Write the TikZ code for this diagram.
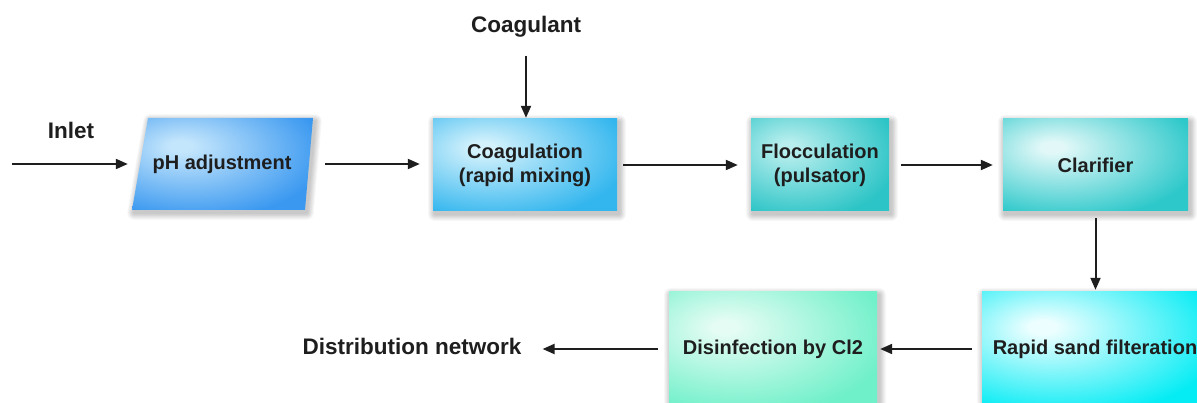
\documentclass[tikz,border=0pt]{standalone}
\usepackage{fontspec}
\setmainfont{Liberation Sans}
\usetikzlibrary{arrows.meta}
\definecolor{hin}{HTML}{FFFFFF}
\definecolor{hout}{HTML}{3D9BF0}
\pgfdeclareradialshading[hin,hout]{hilite}{\pgfpoint{-12bp}{10bp}}{color(0bp)=(hin); color(3bp)=(hin); color(36bp)=(hout); color(95bp)=(hout)}
\pgfdeclarelayer{bgwhite}
\pgfdeclarelayer{shadowlayer}
\pgfsetlayers{bgwhite,shadowlayer,main}
\definecolor{txt}{HTML}{1E1E1E}
\definecolor{phout}{HTML}{3A98F0}
\definecolor{phin}{HTML}{C4E6FC}
\definecolor{coout}{HTML}{33B6EE}
\definecolor{coin}{HTML}{D2F1FC}
\definecolor{flout}{HTML}{2CC4C6}
\definecolor{flin}{HTML}{B8EEEE}
\definecolor{clout}{HTML}{2DC8CA}
\definecolor{clin}{HTML}{E2F8F8}
\definecolor{rsout}{HTML}{06ECF4}
\definecolor{rsin}{HTML}{ECFEFF}
\definecolor{diout}{HTML}{6FF0C8}
\definecolor{diin}{HTML}{E4FCF4}
\tikzset{
  hl/.style 2 args={/utils/exec={\colorlet{hin}{#1}\colorlet{hout}{#2}}, shade, shading=hilite},
  boxtext/.style={font=\fontsize{20}{24}\selectfont\bfseries, text=txt, align=center, inner sep=0pt},
  box/.style={rectangle, boxtext},
  lbl/.style={font=\fontsize{22.5}{27}\selectfont\bfseries, text=txt, inner sep=0pt},
  arr/.style={draw=txt, line width=2pt, -{Triangle[length=12pt,width=10pt]}}
}
% soft shadow: #1 = path (already offset)
\newcommand\softshade[1]{%
  \foreach \k in {1,...,8}{%
    \begin{scope}[transparency group, opacity=0.028]
      \filldraw[black, line width=\k*1.7pt, line join=round] #1;
    \end{scope}}}
\newcommand\boxshade[1]{\softshade{([shift={(2,3)}]#1.north west) rectangle ([shift={(2,3)}]#1.south east)}}
\begin{document}
\begin{tikzpicture}[x=1pt,y=-1pt]
\clip (0,0) rectangle (1197,403);
% pH parallelogram
\path[hl={phin}{phout}] (148,118) -- (313,118) -- (305,210) -- (132,210) -- cycle;
\node[box, minimum width=170, minimum height=92] (ph) at (222,164) {pH adjustment};
% boxes
\node[box, hl={coin}{coout}, minimum width=184, minimum height=92] (coag) at (525,165) {Coagulation\\(rapid mixing)};
\node[box, hl={flin}{flout}, minimum width=138, minimum height=92] (floc) at (820,165) {Flocculation\\(pulsator)};
\node[box, hl={clin}{clout}, minimum width=185, minimum height=92] (clar) at (1095.5,165) {Clarifier};
\node[box, hl={rsin}{rsout}, minimum width=226, minimum height=114] (rsf) at (1095,349) {Rapid sand filteration};
\node[box, hl={diin}{diout}, minimum width=208, minimum height=114] (dis) at (773,349) {Disinfection by Cl2};
% labels
\node[lbl] (inlet) at (71,130) {Inlet};
\node[lbl] (coagulant) at (526,27) {Coagulant};
\node[lbl] (dist) at (412,346) {Distribution network};
\coordinate (in) at (12,164);
% connectors
\draw[arr, shorten >=9pt] (in) -- (ph.west);
\draw[arr, shorten <=18pt, shorten >=13pt] (ph.east) -- (ph.east -| coag.west);
\draw[arr, shorten <=6pt, shorten >=13pt] (coag.east) -- (coag.east -| floc.west);
\draw[arr, shorten <=12pt, shorten >=10pt] (floc.east) -- (floc.east -| clar.west);
\draw[arr, shorten <=18pt, shorten >=1pt] (coagulant.south) -- (coagulant.south |- coag.north);
\draw[arr, shorten <=7pt, shorten >=2pt] (clar.south) -- (clar.south |- rsf.north);
\draw[arr, shorten <=10pt, shorten >=3pt] (rsf.west) -- (rsf.west -| dis.east);
\draw[arr, shorten <=11pt, shorten >=21pt] (dis.west) -- (dis.west -| dist.east);
% shadows
\begin{pgfonlayer}{shadowlayer}
  \softshade{(150,121) -- (315,121) -- (307,213) -- (134,213) -- cycle}
  \boxshade{coag}
  \boxshade{floc}
  \boxshade{clar}
  \boxshade{rsf}
  \boxshade{dis}
\end{pgfonlayer}
\begin{pgfonlayer}{bgwhite}
  \fill[white] (0,0) rectangle (1197,403);
\end{pgfonlayer}
\end{tikzpicture}
\end{document}
